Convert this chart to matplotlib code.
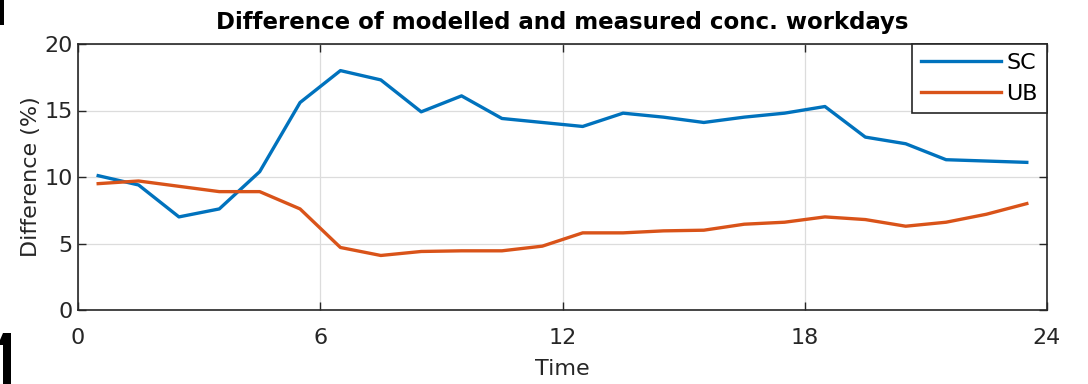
import matplotlib
matplotlib.use("Agg")
import matplotlib.pyplot as plt
from matplotlib.patches import Rectangle, Polygon

# hourly means, plotted at the middle of each hour
hours = [h + 0.5 for h in range(24)]
sc_diff = [10.1, 9.4, 7.0, 7.6, 10.4, 15.6, 18.0, 17.3, 14.9, 16.1, 14.4, 14.1,
           13.8, 14.8, 14.5, 14.1, 14.5, 14.8, 15.3, 13.0, 12.5, 11.3, 11.2, 11.1]
ub_diff = [9.5, 9.7, 9.3, 8.9, 8.9, 7.6, 4.7, 4.1, 4.4, 4.45, 4.45, 4.8,
           5.8, 5.8, 5.95, 6.0, 6.45, 6.6, 7.0, 6.8, 6.3, 6.6, 7.2, 8.0]
series_names = ["SC", "UB"]
x_ticks = [0, 6, 12, 18, 24]
y_ticks = [0, 5, 10, 15, 20]

plt.rcParams["font.family"] = ["DejaVu Sans"]
axis_grey = "#262626"

fig = plt.figure(figsize=(10.88, 3.84), dpi=100)
ax = fig.add_axes([78 / 1088, 1 - 310 / 384, (1047 - 78) / 1088, (310 - 44) / 384])

ax.plot(hours, sc_diff, color="#0072BD", lw=2.4, label=series_names[0])
ax.plot(hours, ub_diff, color="#D95319", lw=2.4, label=series_names[1])

ax.set_xlim(0, 24)
ax.set_ylim(0, 20)
ax.set_xticks(x_ticks)
ax.set_yticks(y_ticks)
ax.grid(True, color="#dcdcdc", lw=0.9)
ax.set_axisbelow(True)
ax.tick_params(direction="in", length=6, width=1.0, colors=axis_grey,
               labelsize=16, top=True, right=True)
ax.tick_params(axis="x", pad=13)
ax.tick_params(axis="y", pad=4)
for sp in ax.spines.values():
    sp.set_color(axis_grey)
    sp.set_linewidth(1.2)

ax.set_title("Difference of modelled and measured conc. workdays",
             fontsize=16.5, fontweight="bold", color="black", pad=11)
ax.set_xlabel("Time", fontsize=16, color=axis_grey, labelpad=8)
ax.set_ylabel("Difference (%)", fontsize=16, color=axis_grey, labelpad=2)

leg = ax.legend(loc="upper right", borderaxespad=0, fancybox=False,
                edgecolor=axis_grey, framealpha=1, fontsize=16,
                handlelength=3.6, handletextpad=0.25, labelspacing=0.5,
                borderpad=0.4)
leg.get_frame().set_linewidth(1.2)

# edges of neighbouring panels cut off at the left border
fig.add_artist(Rectangle((0, 1 - 25 / 384), 4 / 1088, 25 / 384,
                         transform=fig.transFigure, color="black", lw=0))
fig.add_artist(Polygon([(0, 1 - 340 / 384), (3 / 1088, 1 - 333 / 384),
                        (11 / 1088, 1 - 333 / 384), (11 / 1088, 0),
                        (3 / 1088, 0), (3 / 1088, 1 - 345 / 384),
                        (0, 1 - 345 / 384)],
                       closed=True, transform=fig.transFigure,
                       color="black", lw=0))

fig.savefig("out.png", dpi=100)
